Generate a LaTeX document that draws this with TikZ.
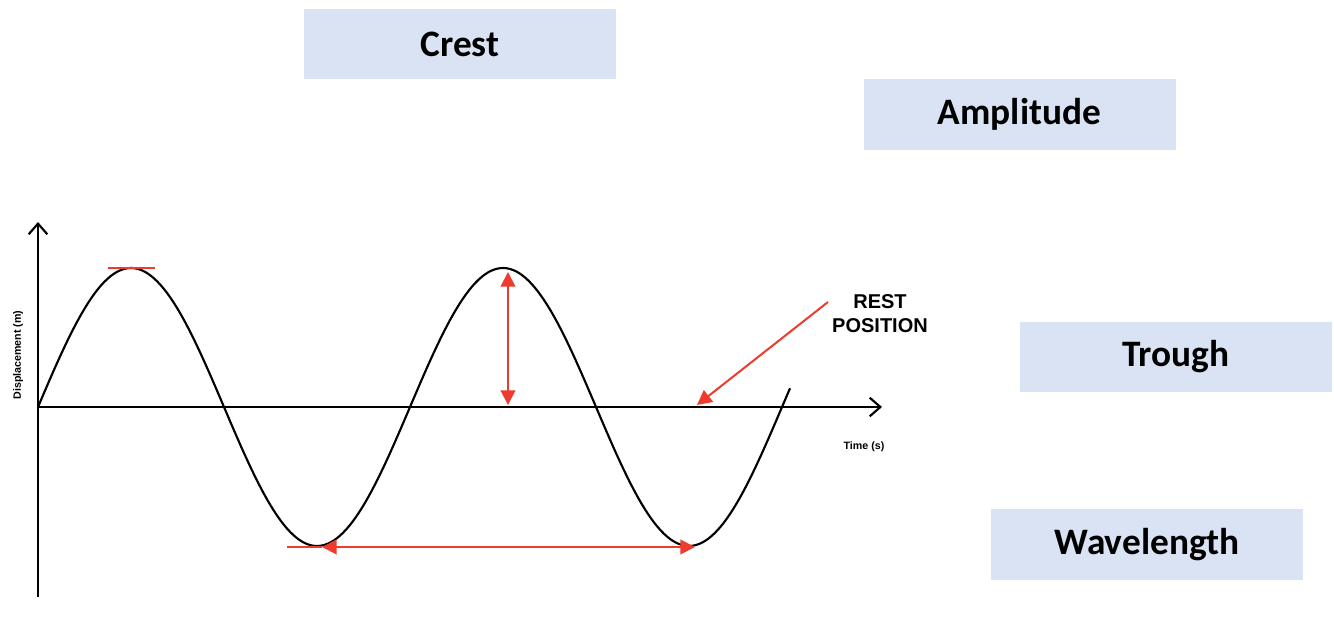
\documentclass[tikz,border=0pt]{standalone}
\usepackage{fontspec}
\setmainfont{Carlito}
\newfontfamily\arialf{Liberation Sans}
\usetikzlibrary{arrows.meta}
\definecolor{boxblue}{HTML}{DAE3F3}
\definecolor{wred}{HTML}{EE3B2E}
\tikzset{
  lbl/.style={fill=boxblue, minimum width=234pt, minimum height=53pt, inner sep=0pt, font=\fontsize{28}{32}\selectfont\bfseries},
  axis/.style={line width=1.6pt, -{Straight Barb[length=8pt,width=14pt]}},
  redarr/.style={wred, line width=1.5pt},
  rtip/.style={-{Triangle[length=11pt,width=11pt]}}
}
\begin{document}
\begin{tikzpicture}[x=0.75pt,y=-0.75pt]
\useasboundingbox (0,0) rectangle (1334,620);
\node[lbl] (crest) at (460,44) {Crest};
\node[lbl] (amp) at (1019.5,114.5) {Amplitude};
\node[lbl] (trough) at (1176,357) {Trough};
\node[lbl] (wave) at (1147,544.5) {Wavelength};
\coordinate (o) at (38,407);
\coordinate (ytop) at (38,222);
\coordinate (ybot) at (38,597);
\coordinate (xend) at (882,407);
\draw[axis] (ybot) -- (ytop);
\draw[axis] (o) -- (xend);
\draw[line width=1.6pt] plot[domain=38:790, samples=240] (\x,{407-139*sin((\x-38)/372*360)});
\coordinate (c1) at (108,268); \coordinate (c2) at (155,268);
\draw[redarr] (c1) -- (c2);
\coordinate (a1) at (508,272); \coordinate (a2) at (508,405);
\draw[redarr, {Triangle[length=11pt,width=11pt]}-{Triangle[length=11pt,width=11pt]}] (a1) -- (a2);
\coordinate (w0) at (287,547); \coordinate (w1) at (322,547); \coordinate (w2) at (695,547);
\draw[redarr] (w0) -- (w1);
\draw[redarr, {Triangle[length=11pt,width=11pt]}-{Triangle[length=11pt,width=11pt]}] (w1) -- (w2);
\node[font=\arialf\bfseries\fontsize{15}{18}\selectfont, align=center] (rest) at (880,314) {REST\\POSITION};
\coordinate (r1) at (828,302); \coordinate (r2) at (697,405);
\draw[redarr, rtip] (r1) -- (r2);
\node[font=\arialf\bfseries\fontsize{8}{10}\selectfont] (time) at (864,447) {Time (s)};
\node[font=\arialf\bfseries\fontsize{8}{10}\selectfont, rotate=90] (disp) at (18,355) {Displacement (m)};
\end{tikzpicture}
\end{document}
